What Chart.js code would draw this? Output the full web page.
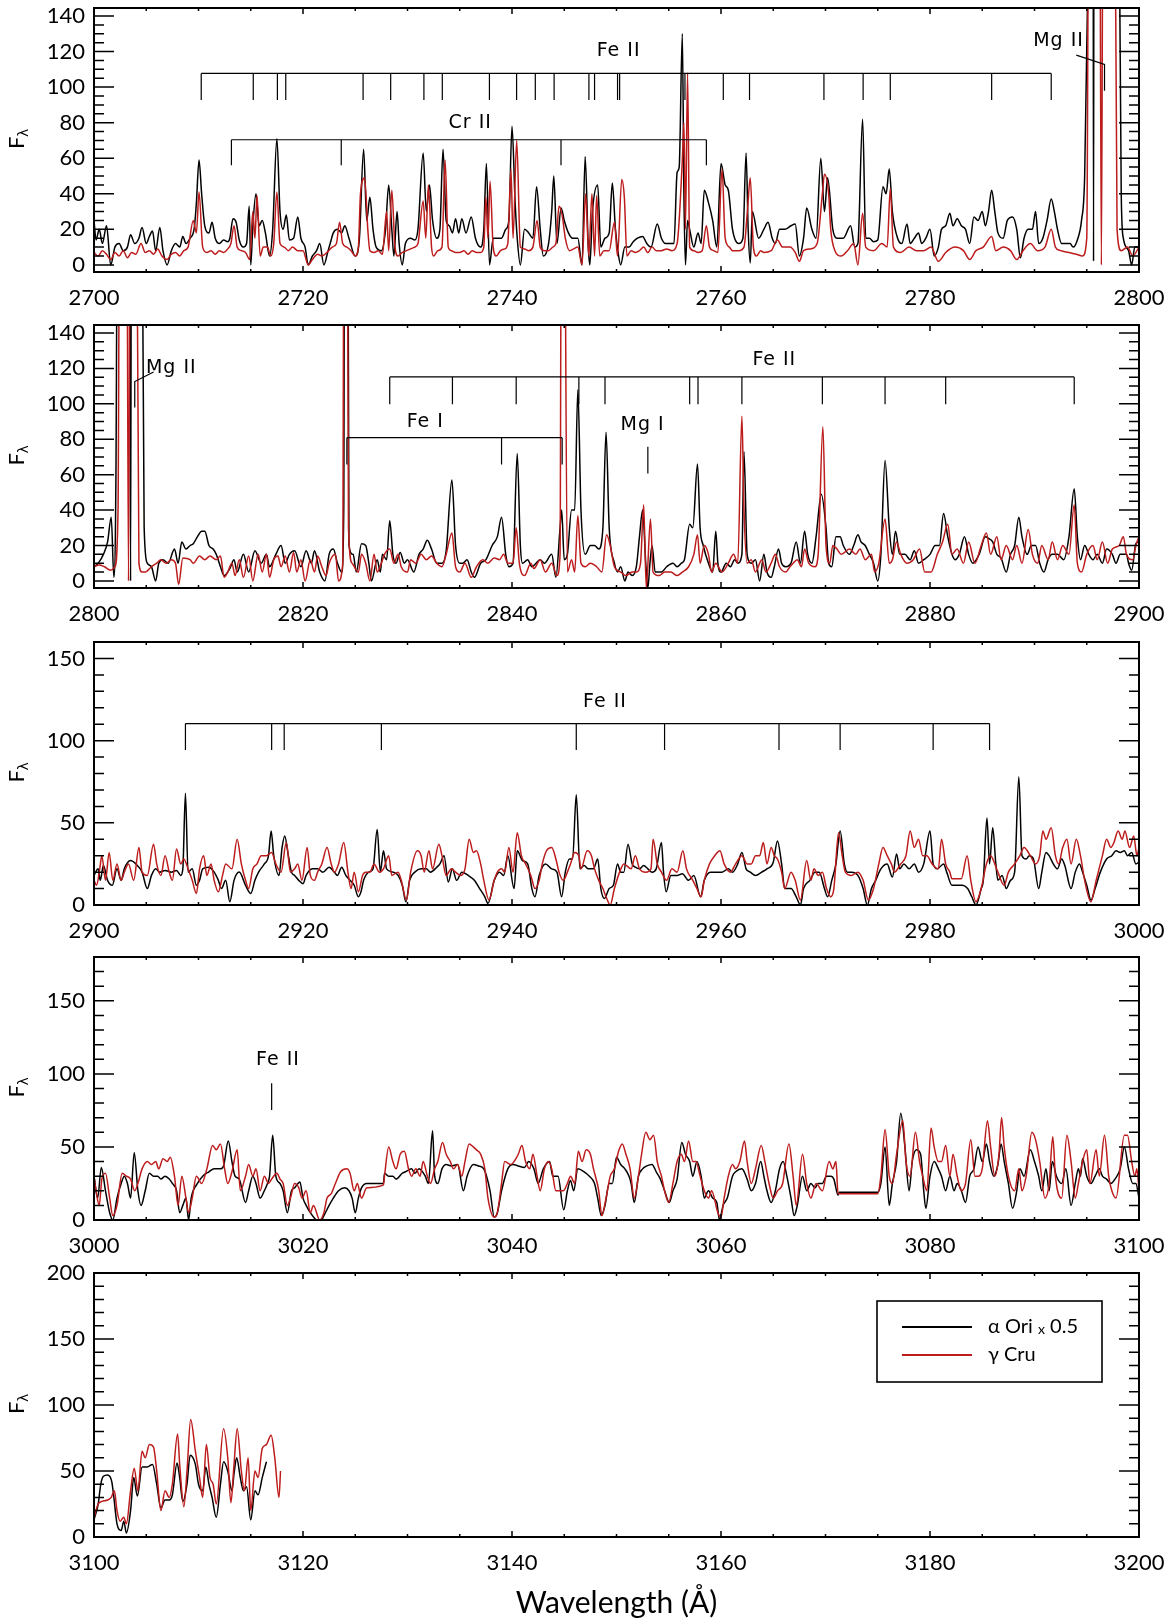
<!DOCTYPE html>
<html>
<head>
<meta charset="utf-8">
<script src="https://cdn.jsdelivr.net/npm/chart.js@4.4.0/dist/chart.umd.min.js"></script>
<style>
  body { margin: 0; background: #fff; width: 1174px; height: 1621px; position: relative; overflow: hidden; }
  .panel { position: absolute; left: 0; width: 1174px; }
</style>
</head>
<body>
<div class="panel" id="w1"><canvas id="c1"></canvas></div>
<div class="panel" id="w2"><canvas id="c2"></canvas></div>
<div class="panel" id="w3"><canvas id="c3"></canvas></div>
<div class="panel" id="w4"><canvas id="c4"></canvas></div>
<div class="panel" id="w5"><canvas id="c5"></canvas></div>
<script>
// tick labels
const xTicks1 = [2700, 2720, 2740, 2760, 2780, 2800];
const xTicks2 = [2800, 2820, 2840, 2860, 2880, 2900];
const xTicks3 = [2900, 2920, 2940, 2960, 2980, 3000];
const xTicks4 = [3000, 3020, 3040, 3060, 3080, 3100];
const xTicks5 = [3100, 3120, 3140, 3160, 3180, 3200];
const yTicksA = [0, 20, 40, 60, 80, 100, 120, 140];
const yTicksB = [0, 50, 100, 150];
const yTicksC = [0, 50, 100, 150, 200];

// alpha Ori x 0.5  (wavelength, flux)
const ori1 = [[2700,25],[2700.2,14],[2700.5,20],[2700.8,12],[2701.2,22],[2701.6,0],[2702,10],[2702.4,12],[2702.8,8],[2703.2,10],[2703.5,17],[2703.9,12],[2704.3,15],[2704.6,21],[2705,12],[2705.3,16],[2705.6,19],[2705.9,8],[2706.3,21],[2706.6,8],[2707,0],[2707.4,8],[2707.8,12],[2708.2,10],[2708.5,16],[2708.8,12],[2709.2,15],[2709.6,21],[2709.8,35],[2710.05,59],[2710.3,40],[2710.6,22],[2711,18],[2711.3,24],[2711.6,15],[2712,12],[2712.4,14],[2712.8,13],[2713,15],[2713.3,26],[2713.6,24],[2713.9,14],[2714.3,10],[2714.6,12],[2714.85,33],[2715,0],[2715.2,22],[2715.5,40],[2715.8,22],[2716.1,25],[2716.4,18],[2716.8,5],[2717.1,20],[2717.5,71],[2717.8,30],[2718.1,20],[2718.4,28],[2718.7,14],[2719.1,15],[2719.5,27],[2719.8,15],[2720.2,10],[2720.5,0],[2720.9,5],[2721.3,8],[2721.6,12],[2722,0],[2722.4,8],[2722.6,12],[2722.9,18],[2723.3,20],[2723.7,18],[2724,22],[2724.4,15],[2725,5],[2725.4,15],[2725.8,65],[2726.1,25],[2726.4,38],[2726.7,20],[2727,10],[2727.5,8],[2727.9,20],[2728.2,45],[2728.5,20],[2728.7,5],[2729,30],[2729.2,12],[2729.5,0],[2729.8,12],[2730.3,15],[2730.7,14],[2731,20],[2731.5,63],[2731.8,30],[2732.1,45],[2732.4,25],[2732.8,15],[2733.1,20],[2733.4,65],[2733.7,25],[2734,22],[2734.3,18],[2734.6,26],[2734.9,18],[2735.2,26],[2735.6,18],[2736.1,27],[2736.5,15],[2737,10],[2737.3,20],[2737.55,57],[2737.85,0],[2738.2,15],[2738.6,15],[2739,15],[2739.4,20],[2739.7,25],[2740,78],[2740.3,35],[2740.5,15],[2740.8,0],[2741.2,20],[2741.6,18],[2742,15],[2742.35,44],[2742.7,20],[2743,5],[2743.5,12],[2743.8,30],[2744,50],[2744.3,12],[2744.7,32],[2745,25],[2745.4,18],[2745.8,15],[2746.3,15],[2746.7,0],[2747,61],[2747.3,10],[2747.45,0],[2747.7,30],[2748.2,45],[2748.5,10],[2748.9,15],[2749.3,18],[2749.6,46],[2749.9,20],[2750.2,5],[2750.4,0],[2750.8,10],[2751.2,10],[2751.6,13],[2752,15],[2752.5,16],[2752.9,12],[2753.3,10],[2753.9,23],[2754.3,15],[2754.7,12],[2755.1,12],[2755.5,12],[2755.8,52],[2756,55],[2756.3,130],[2756.45,40],[2756.6,0],[2756.8,25],[2757,20],[2757.4,10],[2757.8,18],[2758.1,12],[2758.4,42],[2758.8,35],[2759.2,25],[2759.6,10],[2760,57],[2760.4,45],[2760.7,42],[2761.1,20],[2761.7,12],[2762.1,15],[2762.4,63],[2762.6,20],[2762.8,1],[2763,30],[2763.6,15],[2764.1,20],[2764.5,24],[2764.9,15],[2765.2,12],[2765.6,20],[2766.1,20],[2766.7,22],[2767.1,23],[2767.5,5],[2767.9,15],[2768.2,32],[2768.7,20],[2769.1,15],[2769.55,60],[2769.9,30],[2770.2,49],[2770.7,20],[2771.1,15],[2771.7,15],[2772.4,22],[2772.8,10],[2773.1,12],[2773.55,82],[2773.85,15],[2774.2,15],[2774.6,13],[2775,14],[2775.5,44],[2775.8,40],[2776.1,54],[2776.4,30],[2776.9,15],[2777.3,12],[2777.8,23],[2778.1,12],[2778.5,15],[2778.9,18],[2779.2,12],[2779.6,15],[2780,20],[2780.4,5],[2780.8,10],[2781.1,20],[2781.5,22],[2781.9,29],[2782.2,22],[2782.6,26],[2783,22],[2783.4,20],[2783.8,12],[2784.2,27],[2784.6,25],[2785,30],[2785.3,22],[2785.6,30],[2785.9,42],[2786.2,30],[2786.5,18],[2787,15],[2787.4,25],[2787.9,27],[2788.3,20],[2788.65,4],[2789,15],[2789.4,20],[2789.8,20],[2790.1,30],[2790.4,12],[2790.8,15],[2791.2,25],[2791.6,37],[2791.9,30],[2792.2,20],[2792.6,12],[2793,12],[2793.4,12],[2793.7,10],[2794.1,14],[2794.5,25],[2794.8,50],[2795.1,160],[2795.4,300],[2795.6,300],[2795.65,2],[2795.7,300],[2796.5,300],[2797.5,300],[2798.1,200],[2798.3,40],[2798.5,15],[2799,8],[2799.3,0],[2799.6,10],[2800,10]];
const ori2 = [[2800,8],[2800.4,10],[2800.9,15],[2801.3,22],[2801.65,36],[2801.9,2],[2802.1,60],[2802.3,300],[2803.4,300],[2803.5,0],[2803.6,300],[2804.5,300],[2804.8,30],[2805.1,10],[2805.5,8],[2805.9,0],[2806.2,10],[2806.6,12],[2807.1,10],[2807.7,18],[2808.05,10],[2808.4,22],[2808.8,18],[2809.2,20],[2809.5,21],[2809.9,25],[2810.3,28],[2810.6,28],[2811,20],[2811.4,18],[2811.7,15],[2812.1,8],[2812.45,3],[2813,7],[2813.4,12],[2813.7,5],[2814.3,15],[2814.8,5],[2815.4,17],[2816,10],[2816.5,15],[2816.8,8],[2817.4,15],[2817.9,20],[2818.3,10],[2818.7,15],[2819.2,17],[2819.8,8],[2820.3,17],[2820.8,10],[2821.1,17],[2821.6,5],[2822.1,0],[2822.5,15],[2822.9,18],[2823.3,10],[2823.7,5],[2823.9,40],[2824,300],[2824.25,300],[2824.4,20],[2824.8,15],[2825.1,5],[2825.6,21],[2826,20],[2826.3,10],[2826.55,0],[2827.1,12],[2827.4,5],[2827.6,15],[2828,12],[2828.3,34],[2828.6,15],[2828.9,10],[2829.3,16],[2829.7,10],[2830,12],[2830.6,5],[2831.1,15],[2831.5,18],[2831.9,23],[2832.3,18],[2832.8,10],[2833.3,10],[2833.7,17],[2834.25,57],[2834.6,20],[2835,10],[2835.3,10],[2835.7,12],[2836.1,5],[2836.4,2],[2837,10],[2837.5,12],[2838.1,20],[2838.6,25],[2839,36],[2839.4,15],[2839.7,8],[2840.1,10],[2840.5,72],[2840.8,20],[2841,10],[2841.5,12],[2841.9,8],[2842.3,10],[2842.7,12],[2843.1,10],[2843.8,15],[2844.2,2],[2844.6,30],[2844.75,40],[2845,12],[2845.3,15],[2845.7,40],[2846,40],[2846.3,108],[2846.6,40],[2847,15],[2847.5,20],[2847.9,20],[2848.3,18],[2848.7,30],[2849,84],[2849.3,30],[2849.8,10],[2850.1,5],[2850.4,8],[2850.8,0],[2851.1,5],[2851.5,3],[2851.9,8],[2852.2,25],[2852.5,40],[2852.8,10],[2853,-4],[2853.2,10],[2853.4,20],[2853.7,5],[2854.3,5],[2854.8,8],[2855.4,10],[2855.8,8],[2856.2,10],[2856.5,12],[2857,32],[2857.3,30],[2857.75,66],[2858,30],[2858.3,20],[2858.8,10],[2859.2,5],[2859.5,28],[2859.7,10],[2860,5],[2860.5,10],[2860.9,8],[2861.3,12],[2861.6,10],[2862,15],[2862.2,73],[2862.5,15],[2862.9,10],[2863.3,12],[2863.7,0],[2864.1,15],[2864.4,5],[2864.8,2],[2865.1,8],[2865.5,18],[2865.8,10],[2866.2,8],[2866.7,10],[2867.2,22],[2867.6,10],[2868,28],[2868.3,15],[2868.7,10],[2869.1,25],[2869.6,49],[2870.05,30],[2870.3,10],[2870.6,8],[2871,25],[2871.4,25],[2871.7,20],[2872.3,15],[2872.7,20],[2873.1,26],[2873.4,22],[2873.8,20],[2874.2,15],[2874.6,10],[2875,0],[2875.3,15],[2875.7,68],[2876.1,30],[2876.4,15],[2876.7,28],[2877.1,15],[2877.6,15],[2878.1,12],[2878.5,17],[2878.9,10],[2879.4,12],[2880,15],[2880.5,20],[2880.9,20],[2881.3,38],[2881.7,25],[2882.1,15],[2882.4,12],[2882.8,15],[2883.3,25],[2883.7,15],[2884.1,10],[2884.7,15],[2885.3,25],[2885.6,24],[2886,22],[2886.4,15],[2886.8,13],[2887.3,5],[2887.7,15],[2888.1,20],[2888.5,36],[2888.8,25],[2889.3,15],[2889.7,20],[2890.1,20],[2890.5,10],[2890.9,5],[2891.3,12],[2891.7,15],[2892.2,15],[2892.8,12],[2893.3,25],[2893.8,52],[2894.1,25],[2894.4,12],[2894.8,20],[2895.2,15],[2895.6,12],[2896,15],[2896.5,10],[2896.9,18],[2897.45,15],[2897.8,10],[2898.2,15],[2898.8,15],[2899,10],[2899.3,6],[2899.7,21],[2900,22]];
const ori3 = [[2900,18],[2900.4,22],[2900.6,15],[2900.9,24],[2901.3,15],[2901.75,12],[2902.2,22],[2902.6,15],[2902.9,22],[2903.5,27],[2904,25],[2904.6,20],[2905.1,10],[2905.5,18],[2905.9,22],[2906.3,20],[2906.8,21],[2907.4,20],[2907.9,21],[2908.3,18],[2908.5,22],[2908.75,68],[2909,20],[2909.4,22],[2909.8,12],[2910.1,15],[2910.4,22],[2911,23],[2911.5,20],[2911.9,15],[2912.2,10],[2912.6,15],[2913,2],[2913.4,15],[2913.9,20],[2914.5,12],[2915,7],[2915.4,15],[2915.75,20],[2916.3,25],[2916.7,30],[2916.95,45],[2917.2,30],[2917.7,18],[2918,35],[2918.25,42],[2918.6,30],[2918.9,20],[2919.2,18],[2919.6,15],[2920,13],[2920.3,18],[2920.9,22],[2921.4,22],[2921.9,20],[2922.5,23],[2923,20],[2923.3,18],[2923.7,23],[2924.1,18],[2924.5,15],[2924.9,12],[2925.3,5],[2925.55,8],[2925.8,15],[2926.3,20],[2926.7,22],[2927.1,46],[2927.4,20],[2927.7,33],[2928,22],[2928.6,20],[2929.1,18],[2929.5,12],[2929.85,2],[2930.2,15],[2930.7,20],[2931.3,22],[2931.8,22],[2932.2,20],[2932.8,23],[2933.1,25],[2933.5,30],[2933.9,14],[2934.3,22],[2934.7,15],[2935.2,20],[2935.8,18],[2936.4,15],[2936.9,10],[2937.4,5],[2937.7,1],[2938.3,15],[2938.8,20],[2939.2,18],[2939.6,30],[2940.2,10],[2940.5,33],[2941,27],[2941.5,25],[2941.9,10],[2942.2,5],[2942.6,18],[2943.2,25],[2943.8,22],[2944.3,20],[2944.75,5],[2945.1,20],[2945.5,28],[2945.8,28],[2946.15,67],[2946.5,22],[2946.9,24],[2947.3,22],[2947.8,22],[2948.2,28],[2948.5,10],[2948.85,4],[2949.3,10],[2949.7,12],[2950.1,25],[2950.4,20],[2950.7,20],[2951.1,37],[2951.5,25],[2951.8,23],[2952.2,22],[2952.6,24],[2953,22],[2953.4,20],[2953.8,22],[2954.3,38],[2954.5,20],[2954.75,8],[2955.2,18],[2955.8,18],[2956.3,19],[2956.9,15],[2957.4,18],[2958.05,5],[2958.4,15],[2959,20],[2959.5,20],[2960.1,20],[2960.7,22],[2961.1,20],[2961.6,25],[2962,32],[2962.4,22],[2962.8,20],[2963.3,18],[2963.9,20],[2964.4,22],[2965,26],[2965.4,39],[2965.8,25],[2966.1,10],[2966.7,10],[2967.2,5],[2967.6,0],[2967.9,10],[2968.5,15],[2969,20],[2969.4,20],[2969.9,10],[2970.2,5],[2970.6,15],[2971,25],[2971.4,45],[2971.8,25],[2972.1,20],[2972.5,20],[2973.1,18],[2973.6,10],[2974,0],[2974.4,10],[2974.8,15],[2975.3,22],[2975.9,25],[2976.4,17],[2976.8,31],[2977.1,22],[2977.5,25],[2978,22],[2978.5,25],[2978.9,20],[2979.4,25],[2980,45],[2980.3,25],[2980.7,22],[2981.3,25],[2981.6,20],[2982.1,12],[2982.8,12],[2983.1,12],[2983.6,10],[2984,5],[2984.4,0],[2984.9,10],[2985.1,15],[2985.45,53],[2985.7,25],[2986,47],[2986.3,25],[2986.5,15],[2986.9,18],[2987.3,10],[2987.7,15],[2988.1,20],[2988.5,78],[2988.8,30],[2989.2,28],[2989.5,30],[2989.9,28],[2990.4,10],[2990.7,20],[2991.1,32],[2991.4,30],[2991.8,25],[2992.2,22],[2992.6,28],[2992.9,24],[2993.5,10],[2993.9,20],[2994.3,25],[2994.6,20],[2995,12],[2995.4,3],[2995.8,10],[2996.3,20],[2996.9,28],[2997.4,30],[2997.8,33],[2998.2,32],[2998.6,33],[2998.9,30],[2999.3,32],[2999.7,25],[3000,26]];
const ori4 = [[3000,30],[3000.35,15],[3000.7,36],[3001.1,20],[3001.5,5],[3001.8,0],[3002.2,15],[3002.6,25],[3002.9,30],[3003.2,25],[3003.5,15],[3003.85,46],[3004.2,20],[3004.5,10],[3004.9,20],[3005.3,32],[3005.7,30],[3006.1,30],[3006.4,28],[3006.8,30],[3007.2,28],[3007.5,25],[3007.9,20],[3008.2,5],[3008.5,10],[3008.8,15],[3009.05,0],[3009.3,15],[3009.9,25],[3010.4,30],[3011,33],[3011.5,35],[3012.1,35],[3012.4,37],[3012.85,54],[3013.2,40],[3013.5,30],[3013.9,28],[3014.5,12],[3014.8,20],[3015.2,30],[3015.5,25],[3015.9,15],[3016.3,20],[3016.6,25],[3016.8,30],[3017.1,58],[3017.4,30],[3017.8,25],[3018.1,20],[3018.5,5],[3018.9,20],[3019.2,22],[3019.7,26],[3020,15],[3020.3,10],[3020.7,5],[3021.25,0],[3021.6,-2],[3022,3],[3022.5,10],[3022.9,15],[3023.4,20],[3024,22],[3024.4,20],[3024.7,15],[3025,5],[3025.3,15],[3025.6,22],[3026.1,25],[3027.7,25],[3027.8,32],[3028.2,30],[3028.6,30],[3028.9,28],[3029.5,32],[3029.8,33],[3030.4,35],[3030.7,32],[3031.1,35],[3031.7,30],[3032,25],[3032.4,61],[3032.6,30],[3032.9,25],[3033.3,35],[3033.7,38],[3034.2,37],[3034.8,38],[3035.35,20],[3035.7,30],[3036.3,38],[3036.8,37],[3037.3,35],[3037.9,20],[3038.3,2],[3038.6,5],[3039,20],[3039.6,35],[3040.1,38],[3040.6,37],[3041.2,36],[3041.6,40],[3042.1,35],[3042.5,25],[3043,35],[3043.6,40],[3043.9,30],[3044.4,30],[3044.95,7],[3045.3,20],[3045.6,27],[3045.9,20],[3046.3,35],[3046.9,33],[3047.4,30],[3047.9,25],[3048.2,15],[3048.55,3],[3048.9,10],[3049.3,25],[3049.6,25],[3050,43],[3050.4,38],[3050.8,35],[3051.2,30],[3051.4,25],[3051.7,12],[3052.1,30],[3052.5,35],[3052.9,37],[3053.4,38],[3053.8,33],[3054.2,28],[3054.6,20],[3055.05,12],[3055.4,20],[3055.8,28],[3056.25,53],[3056.6,45],[3057,40],[3057.3,30],[3057.7,40],[3058.1,30],[3058.4,15],[3058.8,20],[3059.2,15],[3059.6,12],[3059.85,0],[3060.2,10],[3060.6,15],[3061.1,30],[3061.4,33],[3062,35],[3062.5,28],[3062.9,20],[3063.3,25],[3063.8,40],[3064.1,30],[3064.4,20],[3064.8,12],[3065.2,20],[3065.6,35],[3065.95,40],[3066.3,30],[3066.7,15],[3067,3],[3067.3,10],[3067.8,30],[3068.2,20],[3068.6,25],[3069,22],[3069.3,25],[3069.7,25],[3070.1,30],[3070.5,30],[3070.8,28],[3071.2,17],[3071.3,19],[3075,19],[3075.3,25],[3075.7,50],[3076.1,10],[3076.4,25],[3076.8,40],[3077.2,73],[3077.6,50],[3078,20],[3078.3,40],[3078.7,48],[3079.1,45],[3079.4,20],[3079.6,8],[3080,30],[3080.4,40],[3080.8,35],[3081.1,30],[3081.5,20],[3081.9,30],[3082.3,20],[3082.6,25],[3083,20],[3083.4,12],[3083.8,30],[3084.2,35],[3084.6,50],[3085,40],[3085.4,52],[3085.7,40],[3086.1,30],[3086.5,38],[3086.8,52],[3087.1,40],[3087.5,25],[3087.9,8],[3088.3,20],[3088.6,35],[3089,30],[3089.6,48],[3090,40],[3090.4,30],[3090.7,20],[3091.1,35],[3091.4,20],[3091.7,40],[3092.1,30],[3092.6,25],[3093,35],[3093.5,10],[3093.9,25],[3094.2,35],[3094.4,30],[3094.6,42],[3095,30],[3095.4,25],[3095.8,30],[3096.2,35],[3096.5,30],[3096.9,28],[3097.3,25],[3097.7,28],[3098.2,35],[3098.6,50],[3099,35],[3099.4,25],[3099.7,25],[3100,15]];
const ori5 = [[3100,13],[3100.4,25],[3100.65,40],[3100.9,46],[3101.3,47],[3101.7,42],[3101.9,30],[3102.2,10],[3102.6,5],[3102.85,12],[3103.1,3],[3103.5,20],[3103.8,45],[3104.15,31],[3104.6,53],[3105.1,53],[3105.6,55],[3106,40],[3106.4,22],[3106.8,28],[3107.2,28],[3107.5,32],[3107.95,56],[3108.2,45],[3108.5,27],[3108.9,40],[3109.2,62],[3109.7,55],[3110,40],[3110.4,35],[3110.7,53],[3111,40],[3111.3,30],[3111.7,15],[3112.1,40],[3112.4,57],[3112.8,50],[3113.2,35],[3113.4,48],[3113.65,60],[3114,45],[3114.3,35],[3114.6,38],[3115,13],[3115.4,35],[3115.7,32],[3116.1,45],[3116.5,57]];

// gamma Cru  (wavelength, flux)
const cru1 = [[2700,7],[2700.4,5],[2700.8,8],[2701.2,6],[2701.6,3],[2702,7],[2702.4,5],[2702.8,8],[2703.2,4],[2703.6,7],[2704,6],[2704.5,12],[2704.9,7],[2705.3,8],[2705.7,6],[2706.1,9],[2706.5,5],[2707,3],[2707.4,6],[2707.8,7],[2708.2,5],[2708.6,8],[2709,10],[2709.5,25],[2709.8,18],[2710.05,41],[2710.4,10],[2710.8,7],[2711.2,8],[2711.6,6],[2712,8],[2712.4,7],[2712.8,9],[2713.1,12],[2713.4,22],[2713.7,10],[2714.1,8],[2714.5,7],[2714.9,3],[2715.2,30],[2715.4,15],[2715.6,39],[2715.9,5],[2716.2,10],[2716.6,10],[2716.9,5],[2717.2,12],[2717.5,41],[2717.8,12],[2718.2,10],[2718.6,8],[2719,10],[2719.5,8],[2720,8],[2720.5,0],[2720.9,3],[2721.4,6],[2721.8,5],[2722.3,7],[2722.8,10],[2723.2,12],[2723.5,24],[2723.8,12],[2724.2,10],[2724.6,8],[2725,5],[2725.3,10],[2725.5,40],[2725.9,49],[2726.2,20],[2726.4,8],[2726.8,7],[2727.2,8],[2727.6,6],[2728,30],[2728.2,8],[2728.5,42],[2728.8,10],[2729.1,5],[2729.5,7],[2729.9,8],[2730.3,9],[2730.7,10],[2731,12],[2731.5,36],[2731.75,15],[2732,45],[2732.3,10],[2732.5,5],[2732.9,8],[2733.3,10],[2733.6,59],[2733.9,10],[2734.2,8],[2734.6,7],[2735,7],[2735.4,8],[2735.8,6],[2736.2,8],[2736.6,7],[2737,7],[2737.3,10],[2737.5,38],[2737.7,15],[2737.9,47],[2738.2,10],[2738.5,5],[2738.9,8],[2739.3,9],[2739.6,12],[2739.9,54],[2740.1,15],[2740.45,70],[2740.8,10],[2741.2,9],[2741.6,8],[2742,10],[2742.4,25],[2742.7,10],[2743.1,8],[2743.5,8],[2743.9,10],[2744.2,12],[2744.5,33],[2744.8,28],[2745.1,15],[2745.5,8],[2745.9,9],[2746.3,10],[2746.7,0],[2747.05,40],[2747.35,5],[2747.65,40],[2747.9,5],[2748.1,39],[2748.4,5],[2748.8,8],[2749.3,8],[2749.8,24],[2750.1,5],[2750.5,48],[2750.75,38],[2751,5],[2751.4,8],[2751.8,7],[2752.2,8],[2752.6,10],[2753,7],[2753.4,10],[2753.8,8],[2754.3,8],[2754.8,9],[2755.3,8],[2755.8,12],[2756.3,59],[2756.45,80],[2756.6,20],[2756.8,108],[2757,10],[2757.4,8],[2757.8,7],[2758.2,8],[2758.6,22],[2758.9,10],[2759.3,8],[2759.7,7],[2760.1,54],[2760.4,15],[2760.8,10],[2761.1,8],[2761.7,8],[2762.2,10],[2762.55,32],[2762.8,49],[2763.1,10],[2763.4,5],[2763.8,8],[2764.1,7],[2764.8,8],[2765.4,14],[2765.9,10],[2766.6,10],[2767.1,7],[2767.5,2],[2767.9,8],[2768.6,9],[2769.2,12],[2769.7,40],[2769.9,51],[2770.3,40],[2770.5,20],[2770.9,8],[2771.5,5],[2772.1,8],[2772.7,12],[2773.1,0],[2773.55,29],[2773.85,10],[2774.6,8],[2775.4,12],[2775.9,10],[2776.2,43],[2776.5,10],[2777.2,7],[2778,10],[2778.7,8],[2779.4,8],[2780.1,10],[2780.8,2],[2781.5,7],[2782.4,10],[2783.2,8],[2783.8,3],[2784.4,8],[2785.1,10],[2785.9,16],[2786.3,8],[2787,10],[2787.7,8],[2788.3,3],[2788.9,8],[2789.6,12],[2790.3,8],[2791,10],[2791.6,20],[2792,10],[2792.5,8],[2793.3,7],[2794,6],[2794.6,5],[2795,15],[2795.25,300],[2796.2,300],[2796.4,0],[2796.6,300],[2797.6,300],[2797.9,20],[2798.3,8],[2798.9,10],[2799.4,5],[2800,10]];
const cru2 = [[2800,8],[2800.5,9],[2801,8],[2801.6,6],[2802,8],[2802.3,40],[2802.5,300],[2803.1,300],[2803.3,0],[2803.5,300],[2804,300],[2804.3,10],[2804.6,5],[2804.9,5],[2805.5,8],[2806,10],[2806.4,12],[2806.9,10],[2807.4,12],[2807.8,10],[2808.1,-2],[2808.5,13],[2809.2,12],[2809.5,10],[2810.1,14],[2810.6,12],[2811.1,14],[2811.7,12],[2812.1,14],[2812.45,2],[2812.8,5],[2813.2,10],[2813.5,3],[2813.9,12],[2814.3,2],[2814.8,14],[2815.2,0],[2815.7,15],[2816.1,5],[2816.5,15],[2816.8,2],[2817.2,12],[2817.6,14],[2817.9,8],[2818.3,14],[2818.7,5],[2819.1,16],[2819.4,5],[2819.8,12],[2820.2,0],[2820.7,12],[2821.1,5],[2821.4,14],[2821.8,8],[2822.2,3],[2822.5,10],[2823.1,15],[2823.4,0],[2823.8,10],[2823.95,300],[2824.2,300],[2824.35,30],[2824.7,10],[2825.3,5],[2825.6,15],[2826,10],[2826.4,0],[2826.8,15],[2827.1,5],[2827.5,10],[2827.8,15],[2828.3,18],[2828.7,10],[2829.1,15],[2829.4,8],[2830,5],[2830.3,12],[2830.8,10],[2831.3,15],[2831.8,12],[2832.3,14],[2832.8,10],[2833.3,8],[2833.7,15],[2834.25,27],[2834.6,8],[2835,5],[2835.5,10],[2836.1,2],[2836.6,8],[2837.2,12],[2837.7,10],[2838.3,13],[2838.8,12],[2839.2,15],[2839.6,10],[2840.1,10],[2840.4,30],[2840.7,10],[2841.2,3],[2841.8,10],[2842.1,7],[2842.7,12],[2843.2,5],[2843.8,10],[2844.3,3],[2844.6,15],[2844.75,300],[2844.95,300],[2845.3,5],[2845.7,12],[2846,5],[2846.3,37],[2846.6,10],[2847,8],[2847.5,10],[2848.1,8],[2848.6,5],[2849.05,26],[2849.4,20],[2849.8,8],[2850.4,5],[2850.9,3],[2851.5,5],[2851.9,5],[2852.3,10],[2852.6,43],[2852.85,-4],[2853.25,35],[2853.5,5],[2854.1,3],[2854.6,5],[2855.2,5],[2855.8,3],[2856.3,5],[2856.9,8],[2857.4,15],[2857.75,26],[2858,10],[2858.4,20],[2858.8,15],[2859.1,5],[2859.5,10],[2860.1,5],[2860.7,10],[2861.2,15],[2861.6,10],[2862,93],[2862.2,40],[2862.5,10],[2862.9,12],[2863.3,5],[2863.9,12],[2864.3,5],[2864.8,10],[2865.2,15],[2865.6,8],[2866.2,5],[2866.6,8],[2866.9,10],[2867.3,12],[2867.7,8],[2868,18],[2868.4,10],[2869,8],[2869.3,15],[2869.75,87],[2870.05,20],[2870.4,10],[2870.7,20],[2871.1,18],[2871.5,15],[2872.3,18],[2872.9,15],[2873.3,18],[2873.8,12],[2874.4,15],[2874.7,5],[2875.1,10],[2875.7,35],[2876.1,10],[2876.4,12],[2876.8,22],[2877.2,15],[2877.8,10],[2878.4,12],[2879,18],[2879.5,5],[2880.1,5],[2880.7,15],[2881.2,22],[2881.7,32],[2882.1,15],[2882.6,18],[2883.2,10],[2883.7,22],[2884.3,10],[2884.9,20],[2885.4,27],[2885.8,15],[2886.4,25],[2886.8,12],[2887.3,20],[2887.9,12],[2888.3,20],[2888.8,10],[2889.4,29],[2889.8,15],[2890.3,10],[2890.7,20],[2891.3,12],[2891.7,22],[2892.2,12],[2892.7,20],[2893.3,15],[2893.8,43],[2894.1,10],[2894.5,5],[2895,15],[2895.6,20],[2896,12],[2896.5,22],[2897,10],[2897.45,18],[2898.1,20],[2898.5,25],[2898.8,15],[2899.4,12],[2899.7,20],[2900,25]];
const cru3 = [[2900,15],[2900.25,12],[2900.55,22],[2900.75,30],[2901.1,15],[2901.45,32],[2901.8,15],[2902.2,25],[2902.6,15],[2902.9,20],[2903.3,25],[2903.8,15],[2904.3,35],[2904.6,20],[2905.1,18],[2905.7,37],[2906,25],[2906.4,18],[2906.8,30],[2907.2,20],[2907.5,15],[2907.9,34],[2908.3,25],[2908.6,28],[2909,22],[2909.4,15],[2909.8,7],[2910.1,22],[2910.5,30],[2910.8,18],[2911.2,25],[2911.5,15],[2911.9,8],[2912.3,18],[2912.6,25],[2913.2,22],[2913.7,40],[2914.1,25],[2914.5,15],[2914.8,10],[2915.2,22],[2915.6,25],[2916,30],[2916.5,30],[2917,32],[2917.4,25],[2917.9,20],[2918.4,38],[2918.8,20],[2919.2,22],[2919.5,25],[2919.9,15],[2920.4,35],[2920.7,18],[2921.1,15],[2921.4,20],[2921.8,25],[2922.3,35],[2922.7,25],[2923,20],[2923.4,25],[2923.9,38],[2924.3,20],[2924.6,10],[2924.9,20],[2925.3,8],[2925.7,18],[2926,20],[2926.4,20],[2926.8,25],[2927.3,20],[2927.7,22],[2928.2,30],[2928.5,18],[2929.1,20],[2929.4,15],[2929.9,3],[2930.3,20],[2930.95,33],[2931.3,30],[2931.6,20],[2932.05,33],[2932.4,22],[2933,37],[2933.3,30],[2933.7,18],[2934.2,22],[2934.6,20],[2935.1,18],[2935.5,22],[2935.9,40],[2936.3,32],[2936.6,33],[2937,25],[2937.3,15],[2937.8,3],[2938.3,15],[2938.6,20],[2939,22],[2939.3,20],[2939.7,35],[2940.1,20],[2940.5,44],[2940.9,30],[2941.3,25],[2941.8,18],[2942.2,10],[2942.6,15],[2942.9,25],[2943.3,33],[2943.8,35],[2944.2,28],[2944.5,20],[2944.9,15],[2945.3,20],[2945.6,25],[2946,32],[2946.4,30],[2946.6,22],[2947.2,33],[2947.6,30],[2947.9,22],[2948.3,15],[2948.7,10],[2949,5],[2949.4,0],[2949.8,10],[2950.3,20],[2950.7,25],[2951.4,22],[2951.8,30],[2952.2,22],[2952.8,20],[2953.3,22],[2953.5,40],[2953.9,25],[2954.3,20],[2954.8,15],[2955.3,22],[2955.8,20],[2956.35,33],[2956.7,22],[2957.3,15],[2957.7,10],[2958.1,5],[2958.4,15],[2958.9,25],[2959.4,30],[2959.9,33],[2960.3,25],[2960.9,20],[2961.4,25],[2962,30],[2962.5,25],[2962.9,25],[2963.3,30],[2963.7,30],[2964.05,38],[2964.4,25],[2964.8,35],[2965.1,30],[2965.4,28],[2965.8,20],[2966.1,10],[2966.7,20],[2967.1,15],[2967.6,3],[2968.2,27],[2968.6,15],[2968.9,22],[2969.3,18],[2969.7,20],[2970.1,10],[2970.5,5],[2970.8,10],[2971.25,44],[2971.6,30],[2971.9,20],[2972.5,18],[2973.1,20],[2973.6,15],[2974.1,3],[2974.6,10],[2975.1,25],[2975.5,35],[2975.9,30],[2976.3,25],[2976.6,20],[2977.2,25],[2977.7,30],[2978.1,45],[2978.5,35],[2978.9,40],[2979.3,30],[2979.7,30],[2980.2,25],[2980.8,22],[2981.1,40],[2981.5,25],[2981.9,20],[2982.1,16],[2983,16],[2983.55,30],[2983.9,15],[2984.4,2],[2984.9,10],[2985.4,25],[2985.8,30],[2986.2,25],[2986.5,20],[2987.1,12],[2987.5,20],[2988.1,25],[2988.6,30],[2989,35],[2989.6,30],[2990.1,25],[2990.5,30],[2990.8,45],[2991.1,40],[2991.6,47],[2992,30],[2992.3,25],[2992.7,35],[2993.1,40],[2993.5,25],[2994,40],[2994.4,30],[2994.8,15],[2995.4,2],[2995.9,15],[2996.5,30],[2996.9,40],[2997.3,35],[2997.6,38],[2998,45],[2998.4,40],[2998.65,45],[2999.1,35],[2999.5,42],[2999.8,30],[3000,35]];
const cru4 = [[3000,30],[3000.2,20],[3000.5,10],[3000.75,28],[3001.1,32],[3001.5,15],[3001.8,3],[3002.2,10],[3002.7,32],[3003.1,30],[3003.5,28],[3003.9,20],[3004.2,25],[3004.6,35],[3005.1,40],[3005.5,38],[3005.9,40],[3006.2,35],[3006.6,42],[3007,40],[3007.3,43],[3007.7,30],[3008.05,10],[3008.4,30],[3008.8,15],[3009.05,5],[3009.4,15],[3009.8,30],[3010.3,25],[3010.8,35],[3011.35,51],[3011.7,48],[3012.1,52],[3012.5,35],[3012.8,25],[3013.2,33],[3013.7,48],[3014,20],[3014.5,30],[3014.8,38],[3015.2,30],[3015.5,35],[3015.9,20],[3016.3,30],[3016.7,25],[3017,28],[3017.5,32],[3017.8,28],[3018.1,25],[3018.5,10],[3018.8,15],[3019.2,25],[3019.6,22],[3019.9,15],[3020.3,20],[3020.7,5],[3021,10],[3021.6,0],[3022,5],[3022.3,15],[3022.7,18],[3023.1,25],[3023.6,33],[3024.2,35],[3024.5,32],[3024.9,20],[3025.2,25],[3025.6,15],[3026.1,22],[3027.7,24],[3027.8,30],[3028.2,50],[3028.6,40],[3028.9,35],[3029.3,45],[3029.7,47],[3030.1,35],[3030.4,30],[3030.8,35],[3031.2,30],[3031.5,40],[3031.9,30],[3032.2,25],[3032.6,35],[3032.9,40],[3033.35,53],[3033.7,45],[3034.1,40],[3034.4,35],[3034.8,38],[3035.2,30],[3035.5,40],[3035.9,52],[3036.3,50],[3036.6,48],[3037,45],[3037.4,35],[3037.7,15],[3038.3,2],[3038.6,5],[3039,25],[3039.3,40],[3039.9,38],[3040.2,40],[3040.6,45],[3040.95,51],[3041.3,40],[3041.7,35],[3042,45],[3042.4,30],[3042.7,20],[3043.1,35],[3043.5,40],[3043.8,35],[3044.2,20],[3044.5,20],[3044.9,20],[3045.3,25],[3045.6,30],[3046,25],[3046.35,47],[3046.7,40],[3047.1,48],[3047.5,45],[3047.8,35],[3048.3,20],[3048.6,3],[3049,15],[3049.4,30],[3049.8,35],[3050.2,47],[3050.55,52],[3050.9,45],[3051.3,35],[3051.7,15],[3052.1,30],[3052.4,45],[3052.8,60],[3053.2,55],[3053.55,58],[3053.9,40],[3054.3,30],[3054.6,20],[3055,12],[3055.4,25],[3055.8,40],[3056.2,45],[3056.5,40],[3056.9,54],[3057.3,40],[3057.6,40],[3058,30],[3058.4,20],[3058.8,15],[3059.1,20],[3059.7,5],[3060,2],[3060.3,15],[3060.7,30],[3061.1,38],[3061.4,35],[3061.8,40],[3062.25,54],[3062.5,40],[3062.9,25],[3063.3,35],[3063.85,51],[3064.2,40],[3064.6,25],[3065,15],[3065.4,20],[3065.9,25],[3066.5,52],[3066.9,30],[3067.2,10],[3067.8,45],[3068.2,25],[3068.6,15],[3069.1,25],[3069.7,20],[3070.35,40],[3070.7,35],[3071,40],[3071.2,18],[3075,18],[3075.3,30],[3075.7,62],[3076.1,30],[3076.4,25],[3076.8,45],[3077.4,68],[3077.7,40],[3078.1,30],[3078.6,60],[3079,40],[3079.3,30],[3079.7,20],[3080.1,63],[3080.4,50],[3080.8,40],[3081.1,40],[3081.5,51],[3081.9,30],[3082.2,45],[3082.6,30],[3083,20],[3083.4,25],[3083.9,55],[3084.3,30],[3084.6,30],[3085,35],[3085.5,68],[3085.8,50],[3086.2,30],[3086.6,45],[3086.85,70],[3087.1,50],[3087.5,30],[3088.1,20],[3088.5,35],[3088.8,20],[3089.2,30],[3089.75,60],[3090.1,55],[3090.5,40],[3091,15],[3091.4,25],[3091.75,57],[3092,30],[3092.6,15],[3093.1,58],[3093.5,40],[3093.9,15],[3094.2,25],[3094.6,40],[3095,48],[3095.3,25],[3095.9,48],[3096.2,30],[3096.7,58],[3097.1,30],[3097.4,20],[3097.8,15],[3098.6,58],[3098.9,58],[3099.3,40],[3099.6,30],[3099.8,35],[3100,20]];
const cru5 = [[3100,15],[3100.4,25],[3100.75,27],[3101.3,28],[3101.65,30],[3101.95,35],[3102.2,20],[3102.5,12],[3102.85,15],[3103.1,10],[3103.5,35],[3103.85,52],[3104.2,35],[3104.6,65],[3104.9,60],[3105.3,70],[3105.7,68],[3106,50],[3106.4,20],[3106.8,35],[3107.2,30],[3107.5,40],[3108,78],[3108.2,55],[3108.6,23],[3108.9,50],[3109.25,89],[3109.7,65],[3110.1,45],[3110.4,30],[3110.75,70],[3111.1,45],[3111.4,40],[3111.7,25],[3112.4,82],[3112.8,60],[3113.1,26],[3113.4,55],[3113.7,82],[3114.1,50],[3114.4,35],[3114.75,60],[3115,20],[3115.4,50],[3115.7,45],[3116.1,67],[3116.5,70],[3116.95,77],[3117.3,60],[3117.7,30],[3117.85,50]];

// line identifications: wavelengths, and [bar level, tick end]
const feII_1 = [2710.26, 2715.24, 2717.55, 2718.35, 2725.75, 2728.39, 2731.57, 2733.33, 2737.84, 2740.44, 2742.23, 2744.03, 2747.36, 2747.9, 2750.1, 2750.3, 2756.55, 2760.22, 2762.73, 2769.85, 2773.6, 2776.2, 2785.9, 2791.6];
const feII_1_lvl = [107.7, 92.8];
const crII_1 = [2713.15, 2723.66, 2744.69, 2758.6];
const crII_1_lvl = [70.4, 56];
const mgII_1_path = [[2794.0, 118], [2796.7, 112.7], [2796.7, 98]];
const labels1 = [['Fe II', 2750.2, 120.5], ['Cr II', 2736.0, 79.7], ['Mg II', 2792.3, 126]];

const feI_2 = [2824.2, 2839.0, 2844.8];
const feI_2_lvl = [80.9, 65.7];
const feII_2 = [2828.3, 2834.3, 2840.4, 2846.4, 2848.9, 2857.0, 2857.8, 2862.0, 2869.7, 2875.7, 2881.5, 2893.8];
const feII_2_lvl = [115.2, 99.8];
const mgI_2 = [2853.0];
const mgI_2_lvl = [75.8, 60.6];
const mgII_2_path = [[2805.7, 118], [2803.9, 112.6], [2803.9, 97.9]];
const labels2 = [['Mg II', 2807.4, 120.3], ['Fe I', 2831.7, 89.9], ['Fe II', 2865.1, 124.9], ['Mg I', 2852.5, 88]];

const feII_3 = [2908.75, 2917.0, 2918.2, 2927.5, 2946.15, 2954.6, 2965.55, 2971.4, 2980.3, 2985.7];
const feII_3_lvl = [110.4, 94.3];
const labels3 = [['Fe II', 2948.9, 123.3]];

const feII_4 = [3017.0];
const feII_4_lvl = [93.6, 75.3];
const labels4 = [['Fe II', 3017.6, 109.8]];

const RED = '#bd1c1c';
const TICK_FONT = {family: 'Lato, "Liberation Sans", sans-serif', size: 22};

const panels = [
  {id: 'c1', wrap: 'w1', frameTop: 8, frameH: 264, xh: 45, x: [2700, 2800], y: [-4, 144.5], xt: xTicks1, yt: yTicksA, major: 20, minor: 5,
   ori: ori1, cru: cru1, combs: [[feII_1, feII_1_lvl], [crII_1, crII_1_lvl]], paths: [mgII_1_path], labels: labels1},
  {id: 'c2', wrap: 'w2', frameTop: 325, frameH: 263, xh: 45, x: [2800, 2900], y: [-4, 144.5], xt: xTicks2, yt: yTicksA, major: 20, minor: 5,
   ori: ori2, cru: cru2, combs: [[feI_2, feI_2_lvl], [feII_2, feII_2_lvl], [mgI_2, mgI_2_lvl]], paths: [mgII_2_path], labels: labels2},
  {id: 'c3', wrap: 'w3', frameTop: 642, frameH: 263, xh: 45, x: [2900, 3000], y: [0, 160], xt: xTicks3, yt: yTicksB, major: 50, minor: 10,
   ori: ori3, cru: cru3, combs: [[feII_3, feII_3_lvl]], paths: [], labels: labels3},
  {id: 'c4', wrap: 'w4', frameTop: 957, frameH: 263, xh: 45, x: [3000, 3100], y: [0, 180], xt: xTicks4, yt: yTicksB, major: 50, minor: 10,
   ori: ori4, cru: cru4, combs: [[feII_4, feII_4_lvl]], paths: [], labels: labels4},
  {id: 'c5', wrap: 'w5', frameTop: 1273, frameH: 264, xh: 84, x: [3100, 3200], y: [0, 200], xt: xTicks5, yt: yTicksC, major: 50, minor: 10,
   ori: ori5, cru: cru5, combs: [], paths: [], labels: [], legend: true, title: true}
];

const PAD_TOP = 20;

const framePlugin = {
  id: 'frame',
  afterDatasetsDraw(chart, args, p) {
    const {ctx, chartArea: a, scales: {x, y}} = chart;
    const X = v => x.getPixelForValue(v), Y = v => y.getPixelForValue(v);
    ctx.save();
    ctx.strokeStyle = '#000';

    // inward ticks on all four sides
    ctx.lineWidth = 1.5;
    ctx.beginPath();
    for (let v = x.min; v <= x.max + 1e-6; v += 5) {
      const px = X(v), len = (Math.round(v) % 20 === 0) ? 6 : 3;
      ctx.moveTo(px, a.bottom); ctx.lineTo(px, a.bottom - len);
      ctx.moveTo(px, a.top); ctx.lineTo(px, a.top + len);
    }
    for (let v = 0; v <= y.max + 1e-6; v += p.minor) {
      const py = Y(v), len = (v % p.major === 0) ? 20 : 10;
      ctx.moveTo(a.left, py); ctx.lineTo(a.left + len, py);
      ctx.moveTo(a.right, py); ctx.lineTo(a.right - len, py);
    }
    ctx.stroke();

    ctx.lineWidth = 2;
    ctx.strokeRect(a.left, a.top, a.right - a.left, a.bottom - a.top);

    // line identifications
    ctx.lineWidth = 1.2;
    ctx.beginPath();
    for (const [waves, [bar, end]] of p.combs) {
      ctx.moveTo(X(waves[0]), Y(bar));
      ctx.lineTo(X(waves[waves.length - 1]), Y(bar));
      for (const w of waves) { ctx.moveTo(X(w), Y(bar)); ctx.lineTo(X(w), Y(end)); }
    }
    for (const path of p.paths) {
      path.forEach(([w, v], i) => i ? ctx.lineTo(X(w), Y(v)) : ctx.moveTo(X(w), Y(v)));
    }
    ctx.stroke();

    ctx.fillStyle = '#000';
    ctx.font = '19px "DejaVu Sans", sans-serif';
    ctx.letterSpacing = '1px';
    ctx.textAlign = 'center';
    ctx.textBaseline = 'middle';
    for (const [t, w, v] of p.labels) ctx.fillText(t, X(w), Y(v));
    ctx.letterSpacing = '0px';

    // F_lambda axis title
    ctx.save();
    ctx.translate(24, (a.top + a.bottom) / 2);
    ctx.rotate(-Math.PI / 2);
    ctx.textAlign = 'left';
    ctx.textBaseline = 'alphabetic';
    ctx.font = '22px Lato, sans-serif';
    ctx.fillText('F', -9, 0);
    ctx.font = '14px "DejaVu Sans", sans-serif';
    ctx.fillText('λ', 3, 4);
    ctx.restore();

    if (p.legend) {
      const bx = a.left + 783, by = a.top + 28, bw = 225, bh = 81;
      ctx.lineWidth = 1.6;
      ctx.strokeRect(bx, by, bw, bh);
      ctx.lineWidth = 2;
      ctx.beginPath(); ctx.moveTo(bx + 25, by + 26); ctx.lineTo(bx + 95, by + 26);
      ctx.strokeStyle = '#000'; ctx.stroke();
      ctx.beginPath(); ctx.moveTo(bx + 25, by + 54); ctx.lineTo(bx + 95, by + 54);
      ctx.strokeStyle = RED; ctx.stroke();
      ctx.textAlign = 'left';
      ctx.textBaseline = 'middle';
      let tx = bx + 111;
      ctx.font = '20px Lato, "DejaVu Sans", sans-serif';
      ctx.fillText('α Ori ', tx, by + 26);
      tx += ctx.measureText('α Ori ').width;
      ctx.font = '14px Lato, sans-serif';
      ctx.fillText('x', tx, by + 28);
      tx += ctx.measureText('x').width;
      ctx.font = '20px Lato, sans-serif';
      ctx.fillText(' 0.5', tx, by + 26);
      ctx.fillText('γ Cru', bx + 111, by + 54);
    }
    ctx.restore();
  }
};

for (const p of panels) {
  const wrap = document.getElementById(p.wrap);
  const top = p.frameTop - PAD_TOP;
  wrap.style.top = top + 'px';
  wrap.style.height = (PAD_TOP + p.frameH + p.xh) + 'px';

  new Chart(document.getElementById(p.id), {
    type: 'line',
    data: {
      datasets: [
        {label: 'α Ori x 0.5', data: p.ori, borderColor: '#000', borderWidth: 1.5, pointRadius: 0,
         cubicInterpolationMode: 'monotone', order: 2, clip: 0},
        {label: 'γ Cru', data: p.cru, borderColor: RED, borderWidth: 1.5, pointRadius: 0,
         cubicInterpolationMode: 'monotone', order: 1, clip: 0}
      ]
    },
    options: {
      responsive: true,
      maintainAspectRatio: false,
      animation: false,
      events: [],
      layout: {padding: {top: PAD_TOP, right: 35, left: 0, bottom: 0}},
      plugins: {
        legend: {display: false},
        tooltip: {enabled: false},
        frame: {combs: p.combs, paths: p.paths, labels: p.labels, major: p.major, minor: p.minor, legend: !!p.legend}
      },
      scales: {
        x: {
          type: 'linear', min: p.x[0], max: p.x[1],
          grid: {display: false, drawTicks: false}, border: {display: false},
          afterBuildTicks: s => { s.ticks = p.xt.map(v => ({value: v})); },
          afterFit: s => { s.height = p.xh; s.paddingLeft = 0; s.paddingRight = 0; },
          ticks: {padding: 13, font: TICK_FONT, color: '#000', maxRotation: 0, autoSkip: false, callback: v => String(v)},
          title: {display: !!p.title, text: 'Wavelength (Å)', color: '#000',
                  font: {family: 'Lato, sans-serif', size: 30}, padding: {top: 0, bottom: 0}}
        },
        y: {
          type: 'linear', min: p.y[0], max: p.y[1],
          grid: {display: false, drawTicks: false}, border: {display: false},
          afterBuildTicks: s => { s.ticks = p.yt.map(v => ({value: v})); },
          afterFit: s => { s.width = 94; s.paddingTop = 0; s.paddingBottom = 0; },
          ticks: {padding: 9, font: TICK_FONT, color: '#000', autoSkip: false, callback: v => String(v)}
        }
      }
    },
    plugins: [framePlugin]
  });
}
</script>
</body>
</html>
